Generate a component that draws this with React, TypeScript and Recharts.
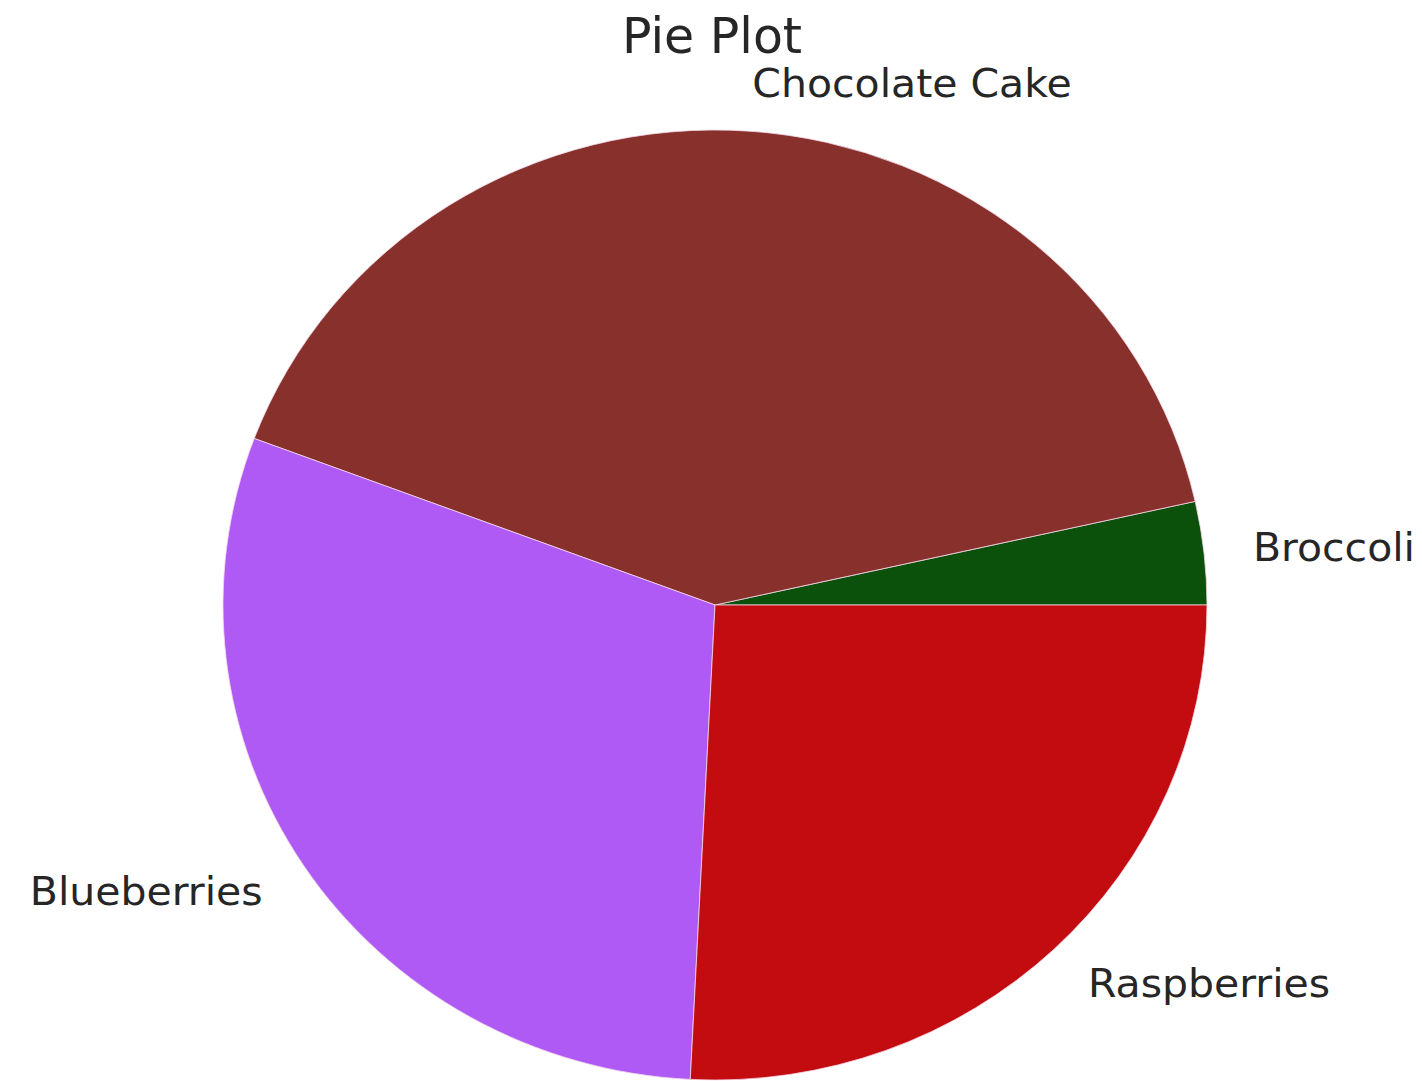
import React from "react";
import { PieChart, Pie, Cell } from "recharts";

const categories = ["Broccoli", "Chocolate Cake", "Blueberries", "Raspberries"];
const shares = [3.5, 40.8, 29.9, 25.8];
const colors = ["#0b500b", "#88302b", "#b05af5", "#c30c0f"];

const data = categories.map((name, i) => ({ name, value: shares[i] }));

const RAD = Math.PI / 180;
// the reference is a little squashed vertically
const SQUASH = 475 / 492;

function renderLabel(props: any) {
  const { cx, cy, midAngle, outerRadius, name } = props;
  const r = outerRadius * 1.1;
  const x = cx + r * Math.cos(-midAngle * RAD);
  const y = cy + r * Math.sin(-midAngle * RAD);
  return (
    <text
      x={x}
      y={y}
      textAnchor={x > cx ? "start" : "end"}
      dominantBaseline="central"
      fill="#262626"
      fontSize={41}
      fontFamily="DejaVu Sans, sans-serif"
    >
      {name}
    </text>
  );
}

export default function App() {
  return (
    <div style={{ position: "absolute", left: 0, top: 0, width: 1422, height: 1081, overflow: "hidden", background: "#fff" }}>
      <div
        style={{
          position: "absolute",
          left: 0,
          top: 7,
          width: 1422,
          textAlign: "center",
          fontFamily: "DejaVu Sans, sans-serif",
          fontSize: 49,
          lineHeight: "60px",
          color: "#262626",
          paddingLeft: 2,
          boxSizing: "border-box",
          zIndex: 1,
        }}
      >
        Pie Plot
      </div>
      <div style={{ position: "absolute", left: 0, top: 0, transform: `scaleY(${SQUASH})`, transformOrigin: "0 605px" }}>
        <PieChart width={1422} height={1130} margin={{ top: 0, right: 0, bottom: 0, left: 0 }}>
          <Pie
            data={data}
            dataKey="value"
            nameKey="name"
            cx={715}
            cy={605}
            outerRadius={492}
            startAngle={0}
            endAngle={360}
            label={renderLabel}
            labelLine={false}
            stroke="#f4d8e8"
            strokeWidth={0.8}
            isAnimationActive={false}
          >
            {data.map((d, i) => (
              <Cell key={d.name} fill={colors[i]} />
            ))}
          </Pie>
        </PieChart>
      </div>
    </div>
  );
}
